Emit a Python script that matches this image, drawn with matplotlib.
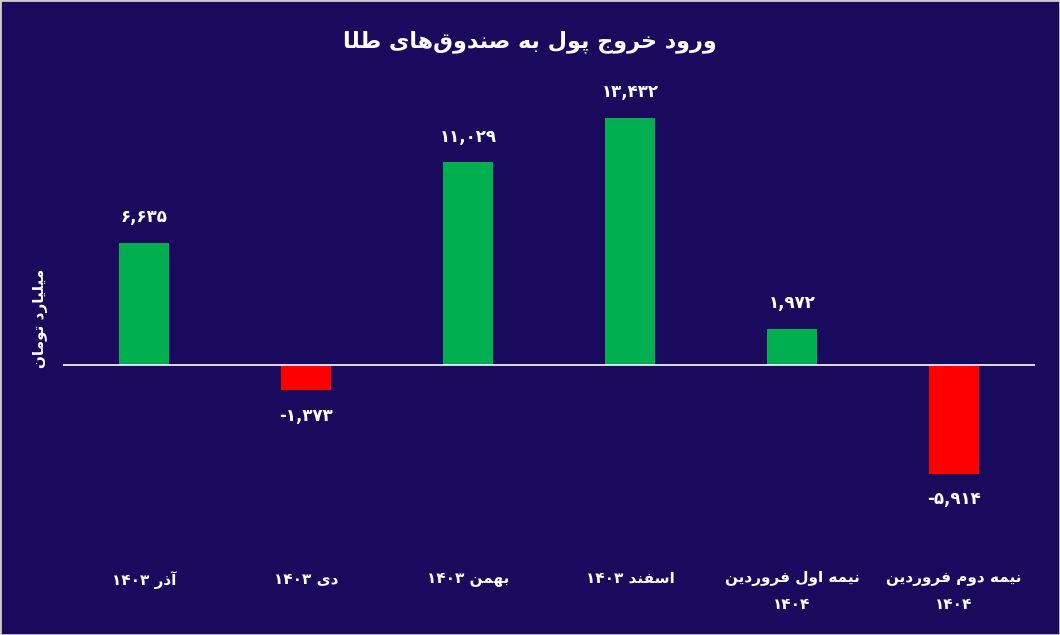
import matplotlib
matplotlib.use("Agg")
import matplotlib.pyplot as plt

plt.rcParams['font.family'] = ['DejaVu Sans']

# data
categories = ["آذر ۱۴۰۳", "دی ۱۴۰۳", "بهمن ۱۴۰۳", "اسفند ۱۴۰۳",
              "نیمه اول فروردین\n۱۴۰۴", "نیمه دوم فروردین\n۱۴۰۴"]
values = [6635, -1373, 11029, 13432, 1972, -5914]
title = "ورود خروج پول به صندوق‌های طلا"
ylabel = "میلیارد تومان"

# minimal persian shaping (isolated, final, initial, medial)
FORMS = {
    'ا': (0xFE8D, 0xFE8E, None, None), 'آ': (0xFE81, 0xFE82, None, None),
    'ب': (0xFE8F, 0xFE90, 0xFE91, 0xFE92), 'ت': (0xFE95, 0xFE96, 0xFE97, 0xFE98),
    'ج': (0xFE9D, 0xFE9E, 0xFE9F, 0xFEA0), 'خ': (0xFEA5, 0xFEA6, 0xFEA7, 0xFEA8),
    'د': (0xFEA9, 0xFEAA, None, None), 'ذ': (0xFEAB, 0xFEAC, None, None),
    'ر': (0xFEAD, 0xFEAE, None, None), 'س': (0xFEB1, 0xFEB2, 0xFEB3, 0xFEB4),
    'ص': (0xFEB9, 0xFEBA, 0xFEBB, 0xFEBC), 'ط': (0xFEC1, 0xFEC2, 0xFEC3, 0xFEC4),
    'ف': (0xFED1, 0xFED2, 0xFED3, 0xFED4), 'ق': (0xFED5, 0xFED6, 0xFED7, 0xFED8),
    'ل': (0xFEDD, 0xFEDE, 0xFEDF, 0xFEE0), 'م': (0xFEE1, 0xFEE2, 0xFEE3, 0xFEE4),
    'ن': (0xFEE5, 0xFEE6, 0xFEE7, 0xFEE8), 'ه': (0xFEE9, 0xFEEA, 0xFEEB, 0xFEEC),
    'و': (0xFEED, 0xFEEE, None, None), 'ی': (0xFBFC, 0xFBFD, 0xFBFE, 0xFBFF),
    'پ': (0xFB56, 0xFB57, 0xFB58, 0xFB59),
}


def shape_word(w):
    w = w.replace('\u200c', '|')
    out = []
    for i, c in enumerate(w):
        if c not in FORMS:
            out.append(c if c != '|' else '')
            continue
        prev = w[i - 1] if i > 0 else None
        nxt = w[i + 1] if i + 1 < len(w) else None
        join_prev = prev in FORMS and FORMS[prev][2] is not None
        join_next = nxt in FORMS and FORMS[c][2] is not None
        iso, fin, ini, med = FORMS[c]
        if join_prev and join_next:
            f = med
        elif join_prev:
            f = fin
        elif join_next:
            f = ini
        else:
            f = iso
        out.append(chr(f))
    return ''.join(out)[::-1]


def rtl(text):
    lines = []
    for line in text.split('\n'):
        toks = []
        for t in line.split(' '):
            if any(ch in FORMS for ch in t):
                toks.append(shape_word(t))
            else:
                toks.append(t)
        lines.append(' '.join(toks[::-1]))
    return '\n'.join(lines)


def fa_num(v):
    s = f"{abs(v):,}".translate(str.maketrans("0123456789", "۰۱۲۳۴۵۶۷۸۹"))
    return ("-" if v < 0 else "") + s


bg = "#1a0a5e"
fig = plt.figure(figsize=(10.6, 6.35), dpi=100, facecolor=bg)
ax = fig.add_axes([63 / 1060, 1 - 540 / 635, 972 / 1060, 440 / 635])
ax.set_facecolor(bg)

x = list(range(len(values)))
colors = ["#00b050" if v >= 0 else "#ff0000" for v in values]
ax.bar(x, values, width=0.31, color=colors)
ax.axhline(0, color="white", lw=1.2)
ax.set_xlim(-0.5, 5.5)
ax.set_ylim(-9516, 14410)
ax.axis("off")

for xi, v in zip(x, values):
    off = 900 if v >= 0 else -900
    ax.text(xi, v + off, fa_num(v), ha="center",
            va="bottom" if v >= 0 else "top",
            color="white", fontsize=12, fontweight="bold")
    ax.text(xi, -11200, rtl(categories[xi]), ha="center", va="top",
            color="white", fontsize=11, fontweight="bold", linespacing=1.9)

fig.text(0.5, 1 - 42 / 635, rtl(title), ha="center", va="center",
         color="white", fontsize=16, fontweight="bold")
fig.text(40 / 1060, 1 - 318 / 635, rtl(ylabel), ha="center", va="center",
         rotation=90, color="white", fontsize=11, fontweight="bold")

fig.patches.append(plt.Rectangle((0, 0), 1, 1, transform=fig.transFigure,
                                 fill=False, ec="#cccccc", lw=2))
fig.savefig("out.png", dpi=100, facecolor=bg)
